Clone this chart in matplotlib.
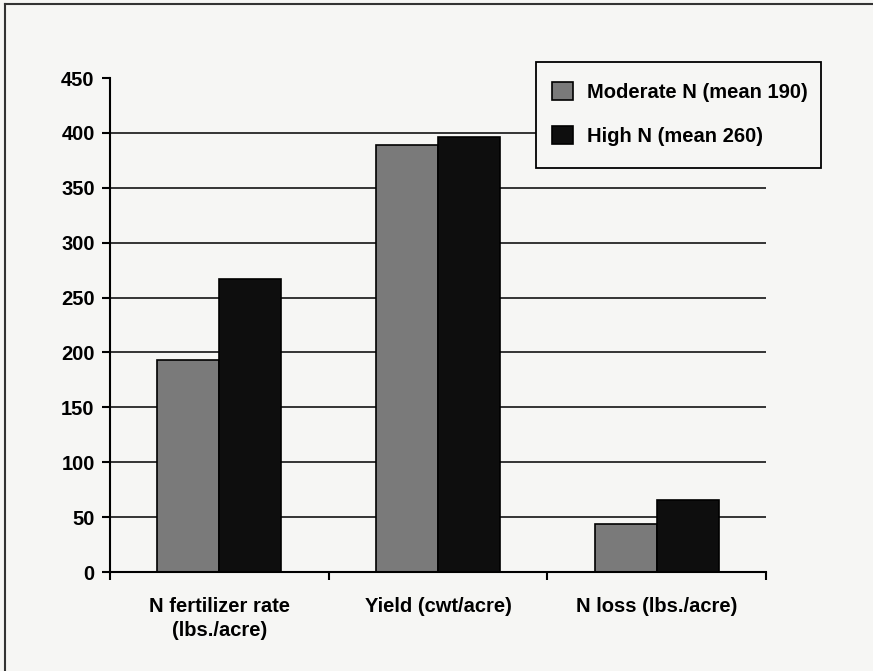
import matplotlib.pyplot as plt
import numpy as np
from matplotlib.lines import Line2D
from matplotlib.patches import Patch, Rectangle

plt.rcParams["font.family"] = ["Liberation Sans", "DejaVu Sans"]
plt.rcParams["font.weight"] = "bold"

categories = ["N fertilizer rate\n(lbs./acre)", "Yield (cwt/acre)", "N loss (lbs./acre)"]
moderate_n = [193, 389, 44]
high_n = [267, 396, 66]
series_labels = ["Moderate N (mean 190)", "High N (mean 260)"]
yticks = [0, 50, 100, 150, 200, 250, 300, 350, 400, 450]

bg = "#f6f6f4"
gray = "#7a7a7a"
black = "#0e0e0e"
fs = 14.5
W, H = 873, 671

fig = plt.figure(figsize=(W / 100, H / 100), dpi=100, facecolor=bg)
ax = fig.add_axes([110 / W, 1 - 572 / H, 656 / W, 494 / H])
ax.set_facecolor("none")

x = np.arange(len(categories))
w = 0.283
ax.hlines(yticks[1:-1], -0.5, len(categories) - 0.5, colors="black", linewidth=1.1, zorder=1)
ax.bar(x - w / 2, moderate_n, w, color=gray, edgecolor="black", linewidth=1.2, zorder=2)
ax.bar(x + w / 2, high_n, w, color=black, edgecolor="black", linewidth=1.2, zorder=2)

ax.set_xlim(-0.5, len(categories) - 0.5)
ax.set_ylim(0, 450)
ax.set_yticks(yticks)
ax.set_xticks(x)
ax.set_xticklabels(categories, linespacing=1.3)
ax.set_xticks(np.arange(len(categories) + 1) - 0.5, minor=True)

ax.tick_params(axis="y", length=6, width=1.5, pad=5, labelsize=fs, direction="out")
ax.tick_params(axis="x", which="major", length=0, pad=18, labelsize=fs)
ax.tick_params(axis="x", which="minor", length=6, width=1.5, direction="out")

for side in ["top", "right"]:
    ax.spines[side].set_visible(False)
for side in ["left", "bottom"]:
    ax.spines[side].set_linewidth(1.5)

# legend frame drawn separately so it can sit exactly where the original box is
fig.add_artist(Rectangle((536 / W, 1 - 168 / H), 285 / W, 106 / H, transform=fig.transFigure,
                         facecolor=bg, edgecolor="black", linewidth=1.3, zorder=3))
handles = [Patch(facecolor=gray, edgecolor="black", linewidth=1.2),
           Patch(facecolor=black, edgecolor="black", linewidth=1.2)]
leg = fig.legend(handles, series_labels, loc="upper left",
                 bbox_to_anchor=(552 / W, 1 - 82 / H), bbox_transform=fig.transFigure,
                 frameon=False, fontsize=fs, handlelength=1.05, handleheight=1.0,
                 handletextpad=0.7, borderpad=0, labelspacing=1.2, borderaxespad=0)
leg.set_zorder(4)

# outer frame of the printed figure (only top and left edges fall inside the image)
fig.add_artist(Line2D([5 / W, 5 / W], [0, 1 - 4 / H], transform=fig.transFigure,
                      color="#333333", linewidth=1.5))
fig.add_artist(Line2D([5 / W, 1], [1 - 4 / H, 1 - 4 / H], transform=fig.transFigure,
                      color="#333333", linewidth=1.5))

fig.savefig("out.png", dpi=100, facecolor=bg)
